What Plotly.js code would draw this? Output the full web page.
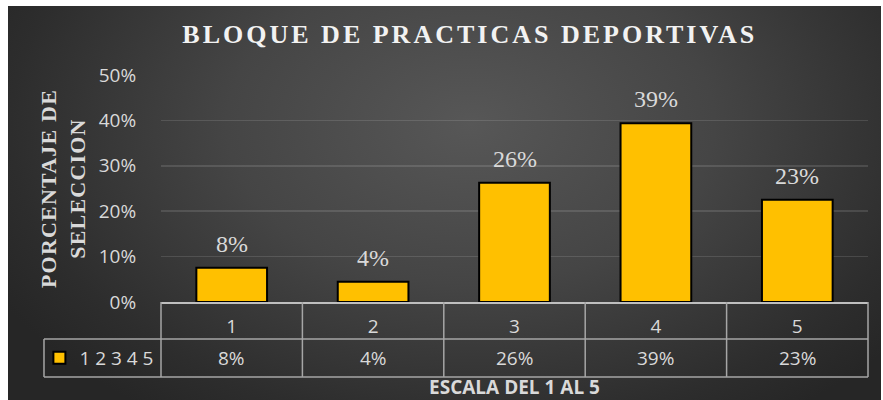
<!DOCTYPE html>
<html><head><meta charset="utf-8">
<script src="https://cdn.plot.ly/plotly-3.0.1.min.js"></script>
<style>
html,body{margin:0;padding:0;background:#fff;}
#wrap{position:relative;width:883px;height:400px;overflow:hidden;}
#bg{position:absolute;left:8px;top:6px;width:873px;height:394px;
 background:radial-gradient(ellipse 62% 90% at 53% 30%, #575757 0%, #454545 45%, #2d2d2d 85%, #262626 100%);}
#chart{position:absolute;left:0;top:0;width:883px;height:400px;}
.gtitle{letter-spacing:3px;}
.g-ytitle text{letter-spacing:1.2px;}
</style></head><body>
<div id="wrap"><div id="bg"></div><div id="chart"></div></div>
<script>
const categories = [1, 2, 3, 4, 5];
const values = [0.0755, 0.0445, 0.2625, 0.3935, 0.2252];
const seriesName = '1 2 3 4 5';
const yTickVals = [0, 0.1, 0.2, 0.3, 0.4, 0.5];
const yTickText = ['0%', '10%', '20%', '30%', '40%', '50%'];
const chartTitle = 'BLOQUE DE PRACTICAS DEPORTIVAS';
const yTitle = 'PORCENTAJE DE<br>SELECCION';
const xTitle = 'ESCALA DEL 1 AL 5';

const pct = v => Math.round(v * 100) + '%';
const SANS = 'Open Sans, Liberation Sans, sans-serif';
const SERIF = 'Liberation Serif, Times New Roman, serif';
const TXT = '#d9d9d9';
const LINE = '#a6a6a6';

// table geometry (paper coords)
const row1Bottom = -0.163, row2Bottom = -0.330, legendLeft = -0.1655;
const row2Mid = (row1Bottom + row2Bottom) / 2;

const trace = {
  type: 'bar', x: categories, y: values, name: seriesName,
  width: 0.5,
  marker: {color: '#FFC000', line: {color: '#000000', width: 2}},
  showlegend: true, hoverinfo: 'none'
};

const annotations = [];
categories.forEach((c, i) => {
  annotations.push({x: c, y: values[i], xref: 'x', yref: 'y', text: pct(values[i]),
    showarrow: false, yanchor: 'bottom', yshift: 9,
    font: {family: SERIF, size: 24, color: TXT}});
  annotations.push({x: c, y: row2Mid, xref: 'x', yref: 'paper', text: pct(values[i]),
    showarrow: false, yanchor: 'middle',
    font: {family: SANS, size: 19, color: TXT}});
});

const shapes = [];
const ln = {color: LINE, width: 1.5};
shapes.push({type: 'line', xref: 'paper', yref: 'paper', x0: legendLeft, x1: 1, y0: row1Bottom, y1: row1Bottom, line: ln});
shapes.push({type: 'line', xref: 'paper', yref: 'paper', x0: legendLeft, x1: 1, y0: row2Bottom, y1: row2Bottom, line: ln});
shapes.push({type: 'line', xref: 'paper', yref: 'paper', x0: legendLeft, x1: legendLeft, y0: row1Bottom, y1: row2Bottom, line: ln});
for (let k = 0; k <= categories.length; k++) {
  const xp = k / categories.length;
  shapes.push({type: 'line', xref: 'paper', yref: 'paper', x0: xp, x1: xp, y0: 0, y1: row2Bottom, line: ln});
}

const layout = {
  width: 883, height: 400,
  margin: {l: 161, r: 15, t: 75, b: 98},
  paper_bgcolor: 'rgba(0,0,0,0)', plot_bgcolor: 'rgba(0,0,0,0)',
  title: {text: chartTitle, x: 0.532, xanchor: 'center', y: 0.915, yanchor: 'middle',
    font: {family: SERIF, size: 26, weight: 'bold', color: '#f2f2f2'}},
  xaxis: {range: [0.5, 5.5], tickvals: categories, ticktext: categories.map(String),
    showgrid: false, zeroline: false,
    showline: true, linecolor: '#bfbfbf', linewidth: 2,
    ticks: 'outside', ticklen: 6, tickcolor: 'rgba(0,0,0,0)',
    tickfont: {family: SANS, size: 19, color: TXT},
    title: {text: xTitle, standoff: 43, font: {family: SANS, size: 19, weight: 'bold', color: TXT}}},
  yaxis: {range: [0, 0.5], tickvals: yTickVals, ticktext: yTickText,
    showgrid: true, gridcolor: 'rgba(255,255,255,0.12)', gridwidth: 1.5, zeroline: false,
    showline: false, ticks: 'outside', ticklen: 20, tickcolor: 'rgba(0,0,0,0)',
    tickfont: {family: SANS, size: 19, color: TXT},
    title: {text: yTitle, standoff: 7, font: {family: SERIF, size: 22, weight: 'bold', color: TXT}}},
  legend: {x: -0.172, xanchor: 'left', y: row2Mid, yanchor: 'middle', bgcolor: 'rgba(0,0,0,0)',
    font: {family: SANS, size: 19, color: TXT}, itemclick: false},
  annotations: annotations, shapes: shapes
};

Plotly.newPlot('chart', [trace], layout, {displayModeBar: false, staticPlot: true});
</script></body></html>
